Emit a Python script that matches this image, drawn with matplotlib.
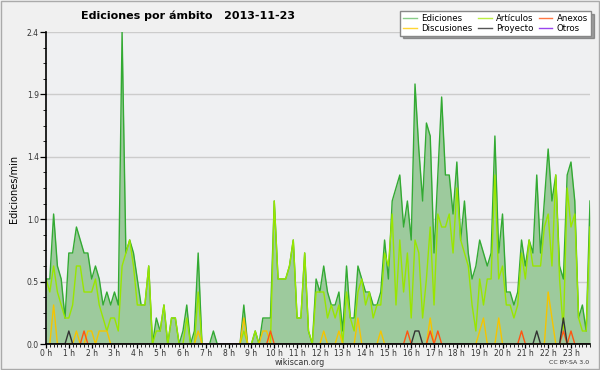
import numpy as np
import matplotlib
matplotlib.use('Agg')
from matplotlib import pyplot as plt
from matplotlib.lines import Line2D
from matplotlib.patches import Rectangle
from matplotlib.ticker import MultipleLocator, FormatStrFormatter

# ediciones por intervalo de 10 minutos (0:00 ... 23:50), 12 valores = 2 horas por fila
ediciones = [
    5, 5, 10, 6, 5, 2, 7, 7, 9, 8, 7, 7,
    5, 6, 5, 3, 4, 3, 4, 3, 24, 7, 8, 7,
    5, 3, 3, 6, 0, 2, 1, 3, 0, 2, 2, 0,
    1, 3, 0, 1, 7, 0, 0, 0, 1, 0, 0, 0,
    0, 0, 0, 0, 3, 0, 0, 1, 0, 2, 2, 2,
    11, 5, 5, 5, 6, 8, 2, 2, 7, 1, 0, 5,
    4, 6, 4, 3, 3, 4, 1, 6, 2, 2, 6, 5,
    4, 4, 3, 3, 4, 8, 5, 11, 12, 13, 9, 11,
    8, 20, 15, 11, 17, 16, 7, 13, 19, 13, 13, 10,
    14, 8, 11, 7, 5, 6, 8, 7, 6, 7, 16, 7,
    10, 4, 4, 3, 4, 8, 6, 8, 7, 13, 7, 11,
    15, 11, 13, 6, 5, 13, 14, 11, 2, 3, 1, 11,
]
articulos = [
    5, 4, 6, 4, 3, 2, 2, 3, 6, 6, 4, 4,
    4, 5, 3, 2, 1, 2, 2, 1, 6, 7, 8, 6,
    3, 3, 3, 6, 0, 1, 1, 3, 0, 2, 2, 0,
    0, 2, 0, 0, 4, 0, 0, 0, 0, 0, 0, 0,
    0, 0, 0, 0, 1, 0, 0, 1, 0, 0, 0, 0,
    11, 5, 5, 5, 6, 8, 2, 2, 7, 1, 0, 4,
    4, 4, 2, 3, 2, 3, 0, 4, 2, 1, 4, 5,
    3, 4, 2, 3, 3, 7, 6, 10, 3, 8, 4, 7,
    2, 8, 7, 2, 5, 9, 3, 10, 9, 9, 10, 7,
    12, 8, 7, 6, 3, 1, 5, 3, 5, 5, 13, 5,
    6, 3, 3, 2, 3, 7, 5, 8, 6, 6, 6, 9,
    10, 6, 13, 5, 1, 12, 9, 10, 2, 1, 1, 9,
]
discusiones = [
    0, 0, 3, 0, 0, 0, 0, 0, 1, 0, 0, 1,
    1, 0, 1, 1, 1, 0, 0, 0, 0, 0, 0, 0,
    0, 0, 0, 0, 0, 0, 0, 0, 0, 0, 0, 0,
    0, 0, 0, 0, 1, 0, 0, 0, 0, 0, 0, 0,
    0, 0, 0, 0, 2, 0, 0, 0, 0, 1, 1, 0,
    0, 0, 0, 0, 0, 0, 0, 0, 0, 0, 0, 0,
    0, 1, 0, 0, 0, 1, 0, 0, 0, 0, 2, 0,
    0, 0, 0, 0, 1, 0, 0, 0, 0, 0, 0, 0,
    0, 0, 0, 0, 0, 2, 0, 0, 0, 0, 0, 0,
    0, 0, 0, 0, 0, 0, 1, 2, 0, 0, 0, 2,
    0, 0, 0, 0, 0, 0, 0, 0, 0, 0, 0, 0,
    4, 2, 0, 0, 0, 0, 0, 0, 0, 0, 0, 0,
]
anexos = [
    0, 0, 0, 0, 0, 0, 0, 0, 0, 0, 1, 0,
    0, 0, 0, 0, 0, 0, 0, 0, 0, 0, 0, 0,
    0, 0, 0, 0, 0, 0, 0, 0, 0, 0, 0, 0,
    0, 0, 0, 0, 0, 0, 0, 0, 0, 0, 0, 0,
    0, 0, 0, 0, 0, 0, 0, 0, 0, 0, 0, 1,
    0, 0, 0, 0, 0, 0, 0, 0, 0, 0, 0, 0,
    0, 0, 0, 0, 0, 0, 0, 0, 0, 0, 0, 0,
    0, 0, 0, 0, 0, 0, 0, 0, 0, 0, 0, 1,
    0, 0, 0, 0, 0, 1, 0, 1, 0, 0, 0, 0,
    0, 0, 0, 0, 0, 0, 0, 0, 0, 0, 0, 0,
    0, 0, 0, 0, 0, 1, 0, 0, 0, 0, 0, 0,
    0, 0, 0, 0, 1, 0, 1, 0, 0, 0, 0, 0,
]
proyecto = [
    0, 0, 0, 0, 0, 0, 1, 0, 0, 0, 0, 0,
    0, 0, 0, 0, 0, 0, 0, 0, 0, 0, 0, 0,
    0, 0, 0, 0, 0, 0, 0, 0, 0, 0, 0, 0,
    0, 0, 0, 0, 0, 0, 0, 0, 0, 0, 0, 0,
    0, 0, 0, 0, 0, 0, 0, 0, 0, 0, 0, 0,
    0, 0, 0, 0, 0, 0, 0, 0, 0, 0, 0, 0,
    0, 0, 0, 0, 0, 0, 0, 0, 0, 0, 0, 0,
    0, 0, 0, 0, 0, 0, 0, 0, 0, 0, 0, 0,
    0, 1, 1, 0, 0, 0, 0, 0, 0, 0, 0, 0,
    0, 0, 0, 0, 0, 0, 0, 0, 0, 0, 0, 0,
    0, 0, 0, 0, 0, 0, 0, 0, 0, 1, 0, 0,
    0, 0, 0, 0, 2, 0, 0, 0, 0, 0, 0, 0,
]
otros = [0] * 144

horas = [f'{h} h' for h in range(24)]
y_ticks = [0.0, 0.48, 0.96, 1.44, 1.92, 2.4]


def por_minuto(counts):
    return np.array(counts) / 10.0


x = np.arange(len(ediciones)) / 6.0

fig = plt.figure(figsize=(6, 3.7), dpi=100, facecolor='#f0f0f0')
ax = fig.add_axes([46 / 600, 1 - 344 / 370, 544 / 600, 312 / 370])
ax.set_facecolor('#eff0f2')

tot = por_minuto(ediciones)
ax.fill_between(x, tot, color='#9dca9d', lw=0)
ax.plot(x, tot, color='#33aa33', lw=1.0)

series = [
    (articulos, '#99e600'),
    (discusiones, '#f5c400'),
    (anexos, '#ff5511'),
    (proyecto, '#333333'),
    (otros, '#9933ff'),
]
for vals, c in series:
    ax.plot(x, por_minuto(vals), color=c, lw=1.0)

ax.set_xlim(0, x[-1])
ax.set_ylim(0, 2.4)
ax.set_xticks(range(24))
ax.set_xticklabels(horas)
ax.xaxis.set_minor_locator(MultipleLocator(1 / 6))
ax.set_yticks(y_ticks)
ax.yaxis.set_major_formatter(FormatStrFormatter('%.1f'))
ax.yaxis.set_minor_locator(MultipleLocator(0.12))
ax.tick_params(axis='both', labelsize=5.5, colors='black', labelcolor='#333333', width=0.9)
ax.tick_params(axis='x', which='major', length=3, pad=0.5)
ax.tick_params(axis='x', which='minor', length=2.5)
ax.tick_params(axis='y', which='major', length=4.3, pad=0.8)
ax.tick_params(axis='y', which='minor', length=2.2)
ax.grid(axis='y', color='#cccccc', lw=1)
ax.set_axisbelow(True)
for s in ['top', 'right']:
    ax.spines[s].set_visible(False)
for s in ['left', 'bottom']:
    ax.spines[s].set_linewidth(1.2)
    ax.spines[s].set_zorder(10)

fig.text(0.313, 0.958, 'Ediciones por ámbito   2013-11-23', ha='center', va='center',
         fontsize=8, fontweight='bold')
fig.text(0.023, 0.49, 'Ediciones/min', rotation=90, ha='center', va='center', fontsize=7)
fig.text(0.5, 0.02, 'wikiscan.org', ha='center', va='center', fontsize=5.8, color='#333333')
fig.text(0.982, 0.02, 'CC BY-SA 3.0', ha='right', va='center', fontsize=4.5, color='#333333')

nombres = ['Ediciones', 'Discusiones', 'Artículos', 'Proyecto', 'Anexos', 'Otros']
colores = ['#88cc88', '#ffd633', '#bbee44', '#555555', '#ff7744', '#9944ee']
handles = [Line2D([], [], color=c, lw=1) for c in colores]
leg = fig.legend(handles, nombres, ncol=3, loc='upper right', bbox_to_anchor=(0.985, 0.97),
                 borderaxespad=0, fontsize=6.2, frameon=True, fancybox=False, shadow=True,
                 edgecolor='#888888', handlelength=1.6, handletextpad=0.5, columnspacing=0.6,
                 labelspacing=0.05, borderpad=0.35)
leg.get_frame().set_facecolor('white')

fig.patches.append(Rectangle((0.001, 0.002), 0.997, 0.996, transform=fig.transFigure,
                             fill=False, edgecolor='#aaaaaa', lw=1))

fig.savefig('out.png', dpi=100, facecolor=fig.get_facecolor())
